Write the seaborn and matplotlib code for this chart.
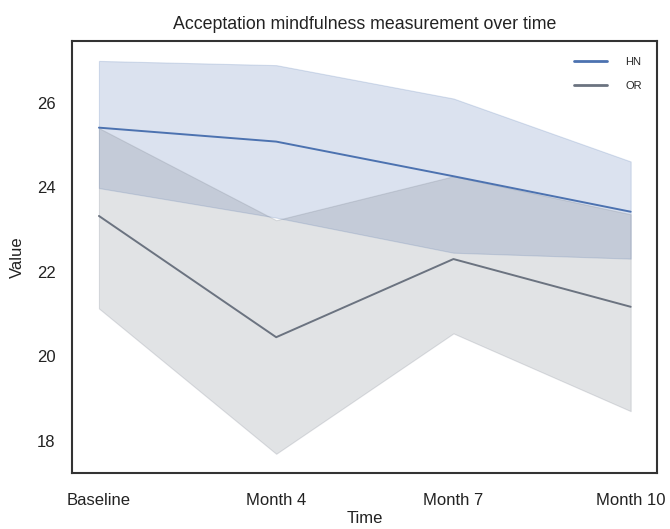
import numpy as np
import pandas as pd
import matplotlib
matplotlib.use("Agg")
import matplotlib.pyplot as plt
import seaborn as sns

# ---- data ----
times = ["Baseline", "Month 4", "Month 7", "Month 10"]
groups = ["HN", "OR"]

hn_mean = [25.41, 25.08, 24.26, 23.42]
hn_lower = [23.98, 23.28, 22.45, 22.31]
hn_upper = [26.99, 26.89, 26.10, 24.61]

or_mean = [23.32, 20.45, 22.30, 21.17]
or_lower = [21.13, 17.69, 20.54, 18.70]
or_upper = [25.40, 23.22, 24.26, 23.36]

# long-form table: three rows per point (lower, centre, upper) so that
# seaborn's median estimator gives the centre and the 100% interval the band
rows = []
for g, lo, mid, hi in [("HN", hn_lower, hn_mean, hn_upper),
                       ("OR", or_lower, or_mean, or_upper)]:
    for i, t in enumerate(times):
        for v in (lo[i], mid[i], hi[i]):
            rows.append({"Time": t, "Value": v, "Group": g})
df = pd.DataFrame(rows)

sns.set_theme(style="white")
plt.rcParams["font.family"] = ["Liberation Sans", "DejaVu Sans"]

fig = plt.figure(figsize=(6.7, 5.29), dpi=100)
ax = fig.add_axes([0.108, 0.105, 0.873, 0.817])

palette = {"HN": "#4c72b0", "OR": "#6b7380"}
sns.lineplot(data=df, x="Time", y="Value", hue="Group", hue_order=groups,
             estimator="median", errorbar=("pi", 100), palette=palette,
             linewidth=1.4, err_kws={"alpha": 0.2, "linewidth": 0.8},
             ax=ax, sort=False)

ax.set_xlim(-0.15, 3.15)
ax.set_yticks([18, 20, 22, 24, 26])
ax.set_title("Acceptation mindfulness measurement over time", fontsize=12.8,
             color="#222222", pad=9)
ax.set_xlabel("Time", fontsize=12, color="#222222", labelpad=2)
ax.set_ylabel("Value", fontsize=12, color="#222222", labelpad=9)
ax.tick_params(axis="x", labelsize=12, colors="#222222", pad=8)
ax.tick_params(axis="y", labelsize=12, colors="#222222", pad=6)
for s in ax.spines.values():
    s.set_color("#333333")
    s.set_linewidth(1.5)

leg = ax.legend(loc="upper right", frameon=False, fontsize=8,
                handlelength=3.0, handletextpad=1.6, borderaxespad=1.0,
                labelspacing=1.3)
for h in leg.get_lines():
    h.set_linewidth(2.0)

fig.savefig("out.png", dpi=100)
